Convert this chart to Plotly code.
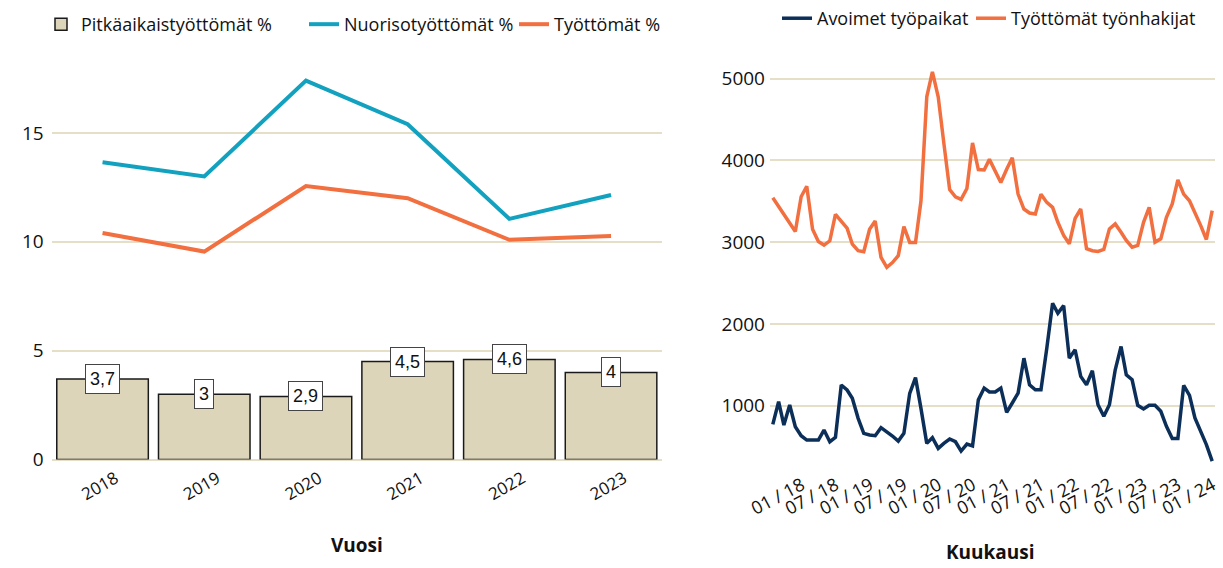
import plotly.graph_objects as go
import pandas as pd

# ---------------- data ----------------
years = [2018, 2019, 2020, 2021, 2022, 2023]
year_labels = ["2018", "2019", "2020", "2021", "2022", "2023"]
pitkaaikais = [3.7, 3.0, 2.9, 4.5, 4.6, 4.0]
pitkaaikais_labels = ["3,7", "3", "2,9", "4,5", "4,6", "4"]
nuoriso = [13.65, 13.0, 17.4, 15.4, 11.05, 12.15]
tyottomat_pct = [10.4, 9.55, 12.56, 12.0, 10.09, 10.27]

months = pd.date_range("2018-01-01", "2024-06-01", freq="MS")
avoimet = [771, 1049, 763, 1008, 743, 633, 580, 580, 580, 702,
           559, 612, 1253, 1192, 1090, 845, 661, 641, 633, 731,
           682, 629, 567, 661, 1151, 1343, 967, 539, 608, 478,
           539, 592, 559, 445, 530, 507, 1071, 1215, 1167, 1167,
           1215, 919, 1033, 1154, 1581, 1256, 1195, 1195, 1703, 2252,
           2130, 2224, 1581, 1683, 1358, 1256, 1427, 1012, 870, 1012,
           1439, 1724, 1378, 1317, 1004, 959, 1004, 1004, 931, 748,
           598, 598, 1248, 1126, 850, 687, 524, 321]
tyonhakijat = [3543, 3440, 3340, 3230, 3130, 3555, 3684, 3158, 3008, 2964,
               3016, 3340, 3250, 3170, 2976, 2895, 2883, 3158, 3259, 2814,
               2692, 2750, 2834, 3190, 2996, 2996, 3502, 4777, 5081, 4777,
               4211, 3644, 3555, 3522, 3656, 4213, 3888, 3883, 4012, 3870,
               3729, 3890, 4032, 3587, 3405, 3356, 3344, 3587, 3486, 3425,
               3243, 3081, 2980, 3291, 3405, 2919, 2895, 2887, 2911, 3162,
               3223, 3121, 3020, 2939, 2960, 3243, 3425, 3000, 3040, 3304,
               3466, 3761, 3587, 3506, 3364, 3202, 3032, 3385]
month_tickvals = ["2018-01-01", "2018-07-01", "2019-01-01", "2019-07-01", "2020-01-01",
                  "2020-07-01", "2021-01-01", "2021-07-01", "2022-01-01", "2022-07-01",
                  "2023-01-01", "2023-07-01", "2024-01-01"]
month_ticktext = ["01 / 18", "07 / 18", "01 / 19", "07 / 19", "01 / 20", "07 / 20",
                  "01 / 21", "07 / 21", "01 / 22", "07 / 22", "01 / 23", "07 / 23", "01 / 24"]

# ---------------- styling ----------------
W, H = 1223, 568
TAN = "#ddd5b9"
GRID = "#e6dfc8"
TEAL = "#12a2c0"
ORANGE = "#f26f40"
NAVY = "#0c2f5a"
TXT = "#111111"
FONT = "Open Sans, sans-serif"
NUMFONT = "Liberation Sans, Arial, sans-serif"


def fx(p):
    return p / W


def fy(p):
    return 1 - p / H


fig = go.Figure()
fig.add_trace(go.Bar(x=years, y=pitkaaikais, name="Pitkäaikaistyöttömät %",
                     marker=dict(color=TAN, line=dict(color="#1a1a1a", width=1.5)),
                     xaxis="x", yaxis="y", legend="legend"))
fig.add_trace(go.Scatter(x=years, y=nuoriso, mode="lines", name="Nuorisotyöttömät %",
                         line=dict(color=TEAL, width=4), xaxis="x", yaxis="y", legend="legend3"))
fig.add_trace(go.Scatter(x=years, y=tyottomat_pct, mode="lines", name="Työttömät %",
                         line=dict(color=ORANGE, width=4), xaxis="x", yaxis="y", legend="legend4"))
fig.add_trace(go.Scatter(x=months, y=avoimet, mode="lines", name="Avoimet työpaikat",
                         line=dict(color=NAVY, width=3.5), xaxis="x2", yaxis="y2", legend="legend2"))
fig.add_trace(go.Scatter(x=months, y=tyonhakijat, mode="lines", name="Työttömät työnhakijat",
                         line=dict(color=ORANGE, width=3.5), xaxis="x2", yaxis="y2", legend="legend5"))

annotations = []
for yr, v, lab in zip(years, pitkaaikais, pitkaaikais_labels):
    annotations.append(dict(x=yr, y=v, xref="x", yref="y", text=lab, showarrow=False,
                            xanchor="center", yanchor="middle",
                            font=dict(family=NUMFONT, size=18, color=TXT),
                            bgcolor="white", bordercolor="#444", borderwidth=1, borderpad=4))
annotations.append(dict(x=fx(357), y=fy(545), xref="paper", yref="paper", text="<b>Vuosi</b>",
                        showarrow=False, xanchor="center", yanchor="middle",
                        font=dict(family=FONT, size=19, color=TXT)))
annotations.append(dict(x=fx(990), y=fy(552), xref="paper", yref="paper", text="<b>Kuukausi</b>",
                        showarrow=False, xanchor="center", yanchor="middle",
                        font=dict(family=FONT, size=19, color=TXT)))


def leg(xp, yp):
    return dict(x=fx(xp), y=fy(yp), xanchor="left", yanchor="top", orientation="h",
                font=dict(family=FONT, size=18, color=TXT), bgcolor="rgba(0,0,0,0)",
                itemwidth=30)


fig.update_layout(
    width=W, height=H, autosize=False,
    margin=dict(l=0, r=0, t=0, b=0, pad=0),
    paper_bgcolor="white", plot_bgcolor="white",
    font=dict(family=FONT, size=16, color=TXT),
    bargap=0.1,
    showlegend=True,
    xaxis=dict(domain=[fx(51.7), fx(661.9)], range=[2017.5, 2023.5], anchor="y",
               tickvals=years, ticktext=year_labels, tickangle=-30, ticklabelshift=13,
               ticklabelstandoff=5, automargin=False,
               showgrid=False, zeroline=False, showline=False, ticks="",
               tickfont=dict(family=FONT, size=17, color=TXT)),
    yaxis=dict(domain=[fy(459), fy(43)], range=[0, 19], anchor="x", automargin=False,
               tickvals=[0, 5, 10, 15], showgrid=True, gridcolor=GRID, gridwidth=1.5,
               ticklabelstandoff=7,
               zeroline=True, zerolinecolor=GRID, zerolinewidth=1.5, showline=False, ticks="",
               tickfont=dict(family=FONT, size=19, color=TXT)),
    xaxis2=dict(domain=[fx(770), fx(1215)], type="date",
                range=["2017-12-17", "2024-06-16"], anchor="y2", automargin=False,
                tickvals=month_tickvals, ticktext=month_ticktext, tickangle=-28,
                ticklabelshift=29,
                showgrid=False, zeroline=False, showline=False, ticks="",
                tickfont=dict(family=FONT, size=18, color=TXT)),
    yaxis2=dict(domain=[fy(470), fy(45)], range=[207, 5377], anchor="x2", automargin=False,
                tickvals=[1000, 2000, 3000, 4000, 5000], showgrid=True, gridcolor=GRID,
                gridwidth=1.5, zeroline=False, showline=False, ticks="", ticklabelstandoff=4,
                tickfont=dict(family=FONT, size=19, color=TXT)),
    legend=leg(41, 3),
    legend3=leg(304, 3),
    legend4=leg(514, 3),
    legend2=leg(777, -3),
    legend5=leg(971, -3),
    annotations=annotations,
)

fig.write_html("out.html", config={"displayModeBar": False},
               post_script="document.body.style.margin='0';document.body.style.overflow='hidden';")
